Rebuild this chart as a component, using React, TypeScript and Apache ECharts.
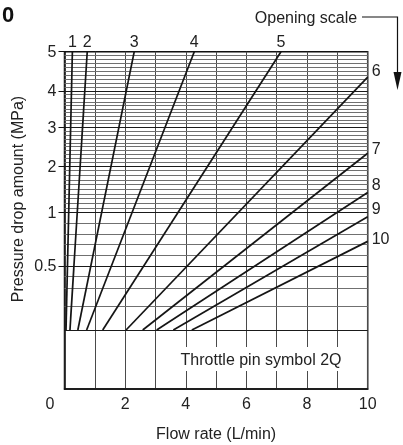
import React, { useEffect, useRef } from 'react';
import * as echarts from 'echarts';

// Opening scale numbers of the throttle pin
const openings = ['1', '2', '3', '4', '5', '6', '7', '8', '9', '10'];
// Flow rate (L/min) at the lower end of each line
const startFlow = [0.05, 0.18, 0.44, 0.73, 1.26, 2.03, 2.58, 3.04, 3.59, 4.2];
// Pressure drop (MPa) at the lower end of each line
const startPressure = [0.1, 0.1, 0.1, 0.1, 0.1, 0.1, 0.1, 0.1, 0.1, 0.1];
// Flow rate (L/min) at the upper end of each line
const endFlow = [0.26, 0.75, 2.3, 4.28, 7.14, 10, 10, 10, 10, 10];
// Pressure drop (MPa) at the upper end of each line
const endPressure = [5, 5, 5, 5, 5, 4.35, 2.33, 1.43, 0.96, 0.73];

// Y tick labels (MPa)
const pressureLabels = [0.5, 1, 2, 3, 4, 5];
const majorGrid = [0.1, 0.5, 1, 2, 3, 4];
const minorGrid = [
  0.2, 0.3, 0.4, 0.6, 0.7, 0.8, 0.9,
  1.1, 1.2, 1.3, 1.4, 1.5, 1.6, 1.7, 1.8, 1.9,
  2.1, 2.2, 2.3, 2.4, 2.5, 2.6, 2.7, 2.8, 2.9,
  3.1, 3.2, 3.3, 3.4, 3.5, 3.6, 3.7, 3.8, 3.9,
  4.1, 4.2, 4.3, 4.4, 4.5, 4.6, 4.7, 4.8, 4.9,
];

// Nomogram pressure scale (piecewise): pressure knots -> axis units 0..100
const P_KNOTS = [0, 0.1, 0.2, 0.3, 0.4, 0.5, 1, 2, 3, 4, 5];
const U_KNOTS = [0, 17.5, 24.5, 29.9, 33.5, 36.5, 52.3, 66.1, 77.6, 88.4, 100];

function toU(p: number): number {
  for (let i = 1; i < P_KNOTS.length; i++) {
    if (p <= P_KNOTS[i]) {
      const t = (p - P_KNOTS[i - 1]) / (P_KNOTS[i] - P_KNOTS[i - 1]);
      return U_KNOTS[i - 1] + t * (U_KNOTS[i] - U_KNOTS[i - 1]);
    }
  }
  return 100;
}

const FONT = "'Liberation Sans', Arial, Helvetica, sans-serif";
const FS = 16;

export default function App() {
  const ref = useRef<HTMLDivElement>(null);
  useEffect(() => {
    if (!ref.current) return;
    const chart = echarts.init(ref.current, null, { renderer: 'svg' });
    const labelU = pressureLabels.map(toU);

    const labelOffsets: Record<string, number[]> = {
      '6': [0, -7], '7': [0, -5], '8': [0, -8], '9': [0, -8], '10': [0, -3],
    };
    const lineSeries = openings.map((name, i) => {
      const top = i < 5;
      return {
        type: 'line',
        name,
        symbol: 'circle',
        symbolSize: 0,
        showSymbol: true,
        z: 5,
        lineStyle: { color: '#151515', width: 1.7 },
        itemStyle: { color: '#151515' },
        data: [
          { value: [startFlow[i], toU(startPressure[i])], label: { show: false } },
          {
            value: [endFlow[i], toU(endPressure[i])],
            label: {
              show: true,
              formatter: name,
              position: top ? 'top' : 'right',
              distance: top ? 2 : 4,
              offset: top ? [0, 0] : labelOffsets[name],
              fontSize: FS,
              color: '#222',
              fontFamily: FONT,
            },
          },
        ],
      };
    });

    const gridSeries = {
      type: 'line',
      data: [[0, 0]],
      symbol: 'none',
      lineStyle: { opacity: 0 },
      z: 1,
      markLine: {
        silent: true,
        symbol: ['none', 'none'],
        label: { show: false },
        data: [
          ...minorGrid.map((p) => ({ yAxis: toU(p), lineStyle: { color: '#707070', width: 1, type: 'solid' } })),
          ...majorGrid.map((p) => ({ yAxis: toU(p), lineStyle: { color: '#1a1a1a', width: 1, type: 'solid' } })),
        ],
      },
    };

    chart.setOption({
      animation: false,
      textStyle: { fontFamily: FONT },
      grid: {
        left: 64.5,
        right: 35.3,
        top: 51.7,
        bottom: 56,
        outerBoundsMode: 'none',
        containLabel: false,
        show: true,
        borderColor: '#111',
        borderWidth: 1.5,
        backgroundColor: 'transparent',
      },
      xAxis: {
        type: 'value',
        min: 0,
        max: 10,
        interval: 1,
        name: 'Flow rate (L/min)',
        nameLocation: 'middle',
        nameGap: 36,
        nameTextStyle: { fontSize: FS, color: '#222', fontFamily: FONT },
        axisLine: { show: true, lineStyle: { color: '#111', width: 1.5 } },
        axisTick: { show: false },
        splitLine: { show: true, lineStyle: { color: '#4a4a4a', width: 1 } },
        axisLabel: {
          fontSize: FS,
          color: '#222',
          margin: 6,
          formatter: (v: number) => (v === 0 ? '{o|0}' : v % 2 === 0 ? String(v) : ''),
          rich: { o: { fontSize: FS, color: '#222', fontFamily: FONT, padding: [0, 29, 0, 0] } },
        },
      },
      yAxis: {
        type: 'value',
        min: 0,
        max: 100,
        splitLine: { show: false },
        axisLine: { show: true, lineStyle: { color: '#111', width: 1.5 } },
        axisTick: { show: true, customValues: labelU, length: 6, lineStyle: { color: '#111', width: 1 } },
        axisLabel: {
          customValues: labelU,
          fontSize: FS,
          color: '#222',
          margin: 8,
          formatter: (v: number) => {
            const idx = labelU.findIndex((u) => Math.abs(u - v) < 1e-6);
            return idx >= 0 ? String(pressureLabels[idx]) : '';
          },
        },
      },
      graphic: [
        {
          type: 'text', x: 2, y: 14,
          style: { text: '0', font: `bold 22px ${FONT}`, fill: '#111', align: 'left', verticalAlign: 'middle' },
        },
        {
          type: 'text', x: 306, y: 17,
          style: { text: 'Opening scale', fontSize: FS, fontFamily: FONT, fill: '#222', align: 'center', verticalAlign: 'middle' },
        },
        {
          type: 'polyline',
          shape: { points: [[362, 17], [397.5, 17], [397.5, 75]] },
          style: { stroke: '#111', lineWidth: 1.2, fill: 'none' },
        },
        {
          type: 'polygon',
          shape: { points: [[393.5, 72], [401.5, 72], [397.5, 90]] },
          style: { fill: '#111' },
        },
        {
          type: 'text', x: 17, y: 199, rotation: Math.PI / 2,
          style: { text: 'Pressure drop amount (MPa)', fontSize: FS, fontFamily: FONT, fill: '#222', align: 'center', verticalAlign: 'middle' },
        },
        {
          type: 'text', x: 261, y: 359, z: 10,
          style: {
            text: 'Throttle pin symbol 2Q', fontSize: FS, fontFamily: FONT, fill: '#222',
            align: 'center', verticalAlign: 'middle', backgroundColor: '#fff', padding: [4, 2],
          },
        },
      ],
      series: [gridSeries, ...lineSeries],
    });
    return () => chart.dispose();
  }, []);

  return <div ref={ref} style={{ position: 'fixed', left: 0, top: 0, width: 403, height: 445 }} />;
}
